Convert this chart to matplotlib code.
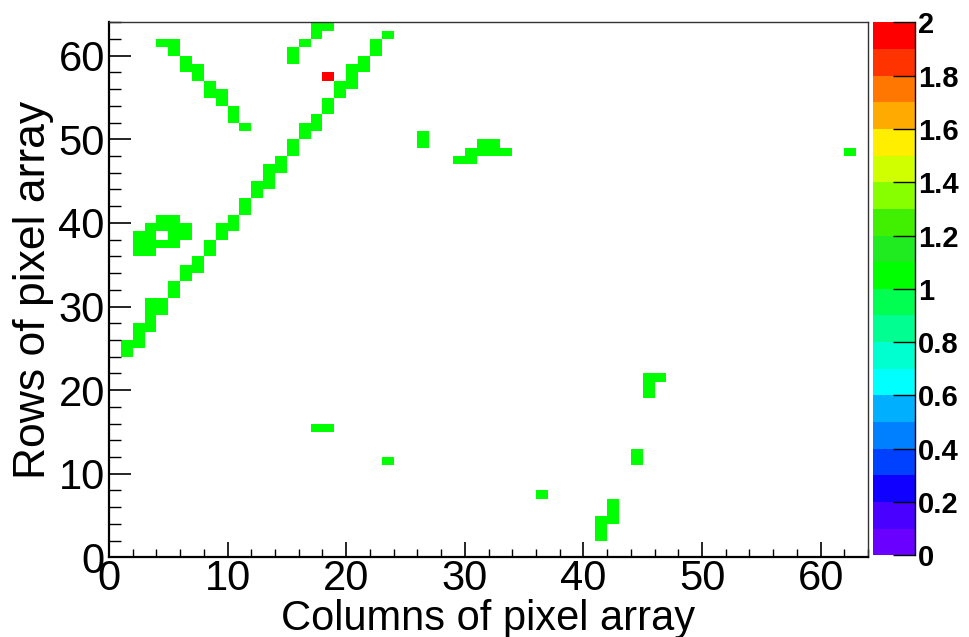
import numpy as np
import matplotlib
matplotlib.use("Agg")
import matplotlib.pyplot as plt
from matplotlib.colors import ListedColormap, BoundaryNorm
from matplotlib.ticker import MultipleLocator, FormatStrFormatter

plt.rcParams["font.family"] = ["Liberation Sans", "DejaVu Sans"]

# fired pixels of the 64x64 matrix: column, row, number of hits
hit_cols = [4, 5, 5, 6, 6, 7, 7, 8, 8, 9, 9, 10, 10, 11,
            15, 15, 16, 17, 17, 18,
            1, 1, 2, 2, 2, 3, 3, 3, 3, 4, 4, 5, 5, 6, 6, 7, 7, 8, 8,
            9, 9, 10, 10, 11, 11, 12, 12, 13, 13, 13, 14, 14, 15, 15,
            16, 16, 17, 17, 18, 18, 19, 19, 20, 20, 20, 21, 21, 22, 22, 23,
            4, 5, 3, 4, 5, 6, 2, 3, 5, 6, 2, 3, 4, 5, 2, 3,
            26, 26, 29, 30, 30, 31, 32, 33, 31, 32,
            62,
            17, 18, 23, 36, 41, 41, 41, 42, 42, 42, 44, 44, 45, 45, 45, 46,
            18]
hit_rows = [61, 61, 60, 59, 58, 58, 57, 56, 55, 55, 54, 53, 52, 51,
            59, 60, 61, 62, 63, 63,
            24, 25, 25, 26, 27, 27, 28, 29, 30, 29, 30, 31, 32, 33, 34, 34, 35, 36, 37,
            38, 39, 39, 40, 41, 42, 43, 44, 44, 45, 46, 46, 47, 48, 49,
            50, 51, 51, 52, 53, 54, 55, 56, 56, 57, 58, 58, 59, 60, 61, 62,
            40, 40, 39, 39, 39, 39, 38, 38, 38, 38, 37, 37, 37, 37, 36, 36,
            49, 50, 47, 47, 48, 48, 48, 48, 49, 49,
            48,
            15, 15, 11, 7, 2, 3, 4, 4, 5, 6, 11, 12, 19, 20, 21, 21,
            57]
hit_counts = [1] * (len(hit_cols) - 1) + [2]

# ROOT-like rainbow palette, 20 contour levels between 0 and 2
palette = ["#6a00ff", "#4a00ff", "#1000ff", "#0040ff", "#0080ff",
           "#00b0ff", "#00ffff", "#00ffd0", "#00ff90", "#00ff50",
           "#00ff00", "#20ea20", "#40f000", "#88ff00", "#d0ff00",
           "#ffee00", "#ffaa00", "#ff7700", "#ff3300", "#ff0000"]
levels = np.linspace(0, 2, 21)

counts, xedges, yedges = np.histogram2d(hit_cols, hit_rows, bins=64,
                                        range=[[0, 64], [0, 64]],
                                        weights=hit_counts)
counts = np.ma.masked_equal(counts.T, 0)

cmap = ListedColormap(palette)
cmap.set_over(palette[-1])
norm = BoundaryNorm(levels, cmap.N)

fig = plt.figure(figsize=(9.69, 6.37), dpi=100)
ax = fig.add_axes([0.1125, 0.1251, 0.7833, 0.8399])
cax = fig.add_axes([0.9009, 0.1282, 0.0433, 0.8368])

mesh = ax.pcolormesh(xedges, yedges, counts, cmap=cmap, norm=norm)
ax.set_xlim(0, 64)
ax.set_ylim(0, 64)

ax.xaxis.set_major_locator(MultipleLocator(10))
ax.xaxis.set_minor_locator(MultipleLocator(2))
ax.yaxis.set_major_locator(MultipleLocator(10))
ax.yaxis.set_minor_locator(MultipleLocator(2))
ax.tick_params(axis="x", which="major", direction="in", length=11, width=1.2,
               labelsize=30, pad=1)
ax.tick_params(axis="x", which="minor", direction="in", length=5.5, width=1.0)
ax.tick_params(axis="y", which="major", direction="in", length=16, width=1.2,
               labelsize=30, pad=3)
ax.tick_params(axis="y", which="minor", direction="in", length=8.5, width=1.0)
for s in ["left", "bottom"]:
    ax.spines[s].set_linewidth(1.6)
for s in ["top", "right"]:
    ax.spines[s].set_linewidth(1.0)
    ax.spines[s].set_color("#333333")

ax.set_xlabel("Columns of pixel array", fontsize=30, labelpad=0)
ax.set_ylabel("Rows of pixel array", fontsize=32, labelpad=3)

cb = fig.colorbar(mesh, cax=cax, ticks=np.arange(0, 2.01, 0.2), extend="neither")
cb.outline.set_visible(False)
cax.plot([1, 1], [0, 1], transform=cax.transAxes, color="black", lw=1.0,
         clip_on=False)
cax.yaxis.set_major_formatter(FormatStrFormatter("%g"))
cax.tick_params(axis="y", direction="in", length=16, width=1.0, labelsize=21,
                pad=2)
for lab in cax.get_yticklabels():
    lab.set_fontweight("bold")
cax.minorticks_off()

fig.savefig("out.png", dpi=100, facecolor="white")
